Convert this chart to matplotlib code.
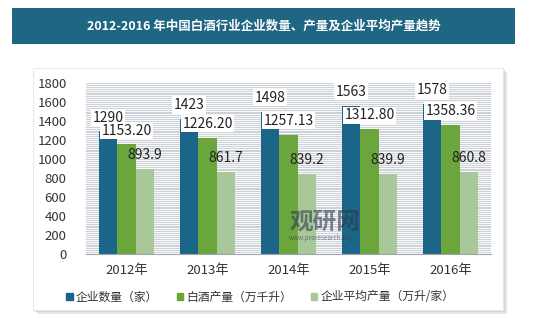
import matplotlib.pyplot as plt
import numpy as np
from matplotlib.patches import Rectangle

plt.rcParams['font.family'] = ['Noto Sans CJK SC', 'DejaVu Sans']

years = ["2012年", "2013年", "2014年", "2015年", "2016年"]
companies = [1290, 1423, 1498, 1563, 1578]
output = [1153.20, 1226.20, 1257.13, 1312.80, 1358.36]
avg_output = [893.9, 861.7, 839.2, 839.9, 860.8]
company_labels = ["1290", "1423", "1498", "1563", "1578"]
output_labels = ["1153.20", "1226.20", "1257.13", "1312.80", "1358.36"]
avg_labels = ["893.9", "861.7", "839.2", "839.9", "860.8"]
series_names = ["企业数量（家）", "白酒产量（万千升）", "企业平均产量（万升/家）"]
title = "2012-2016 年中国白酒行业企业数量、产量及企业平均产量趋势"

c_blue = "#1b6688"
c_green = "#6aa63c"
c_light = "#a9c899"

W, H = 540, 328
fig = plt.figure(figsize=(W / 100, H / 100), dpi=100)
fig.patch.set_facecolor("white")


def px(x, y, w, h):
    return (x / W, 1 - (y + h) / H, w / W, h / H)


def add_rect(x, y, w, h, **kw):
    x0, y0, w0, h0 = px(x, y, w, h)
    fig.patches.append(Rectangle((x0, y0), w0, h0, transform=fig.transFigure,
                                 zorder=-5, **kw))


# title bar
add_rect(12, 8, 503, 36, facecolor="#1f6683", edgecolor="none")
fig.text((12 + 503 / 2) / W, 1 - 26 / H, title, color="white", fontsize=9,
         fontweight="bold", ha="center", va="center")

# panel with shadow
add_rect(37, 72, 470, 242, facecolor="#e6e6e6", edgecolor="none")
add_rect(35, 70, 470, 242, facecolor="#d6d6d6", edgecolor="none")
add_rect(33, 68, 470, 242, facecolor="white", edgecolor="#e6e6e6", lw=0.6)

ax = fig.add_axes([86 / W, 1 - 254 / H, 405 / W, 171 / H])
ax.set_facecolor("none")
x = np.arange(len(years))
bw = 0.225

# dense striped background
for yv in range(20, 1801, 20):
    ax.axhline(yv, color="#cdd1d8", lw=0.8, zorder=0)

series = [(companies, company_labels, c_blue, -bw, True),
          (output, output_labels, c_green, 0, True),
          (avg_output, avg_labels, c_light, bw, False)]
for vals, labs, col, off, boxed in series:
    ax.bar(x + off, vals, bw, color=col, zorder=2)
    for xi, v, lab in zip(x, vals, labs):
        kw = {}
        if boxed:
            kw["bbox"] = dict(facecolor="white", edgecolor="none", pad=1.2)
        ax.annotate(lab, (xi + off, v), xytext=(0, 10), textcoords="offset points",
                    ha="center", va="center", fontsize=10, color="#222222",
                    zorder=3, **kw)

ax.set_xlim(-0.5, len(years) - 0.5)
ax.set_ylim(0, 1800)
ax.set_yticks(range(0, 1801, 200))
ax.set_xticks(x)
ax.set_xticklabels(years)
ax.tick_params(axis="both", length=0, labelsize=9.5, colors="#333333")
ax.tick_params(axis="y", pad=14)
ax.tick_params(axis="x", pad=7)
for s in ["top", "right", "left"]:
    ax.spines[s].set_visible(False)
ax.spines["bottom"].set_color("#a0a4aa")

# watermark
fig.text(290 / W, 1 - 222 / H, "观研网", fontsize=17, fontweight="bold",
         color="#2e3c4c", alpha=0.6, ha="left", va="center", zorder=5)
fig.text(289 / W, 1 - 238 / H, "www.proresearch.org", fontsize=4.5,
         color="#2e3c4c", alpha=0.6, ha="left", va="center", zorder=5)

# legend
handles = [Rectangle((0, 0), 1, 1, color=c) for c in (c_blue, c_green, c_light)]
fig.legend(handles, series_names, loc="center", bbox_to_anchor=(260 / W, 1 - 297 / H),
           ncol=3, frameon=False, fontsize=8.5, handlelength=0.55, handleheight=0.55,
           handletextpad=0.25, columnspacing=1.6, labelcolor="#333333")

fig.savefig("out.png", dpi=100)
